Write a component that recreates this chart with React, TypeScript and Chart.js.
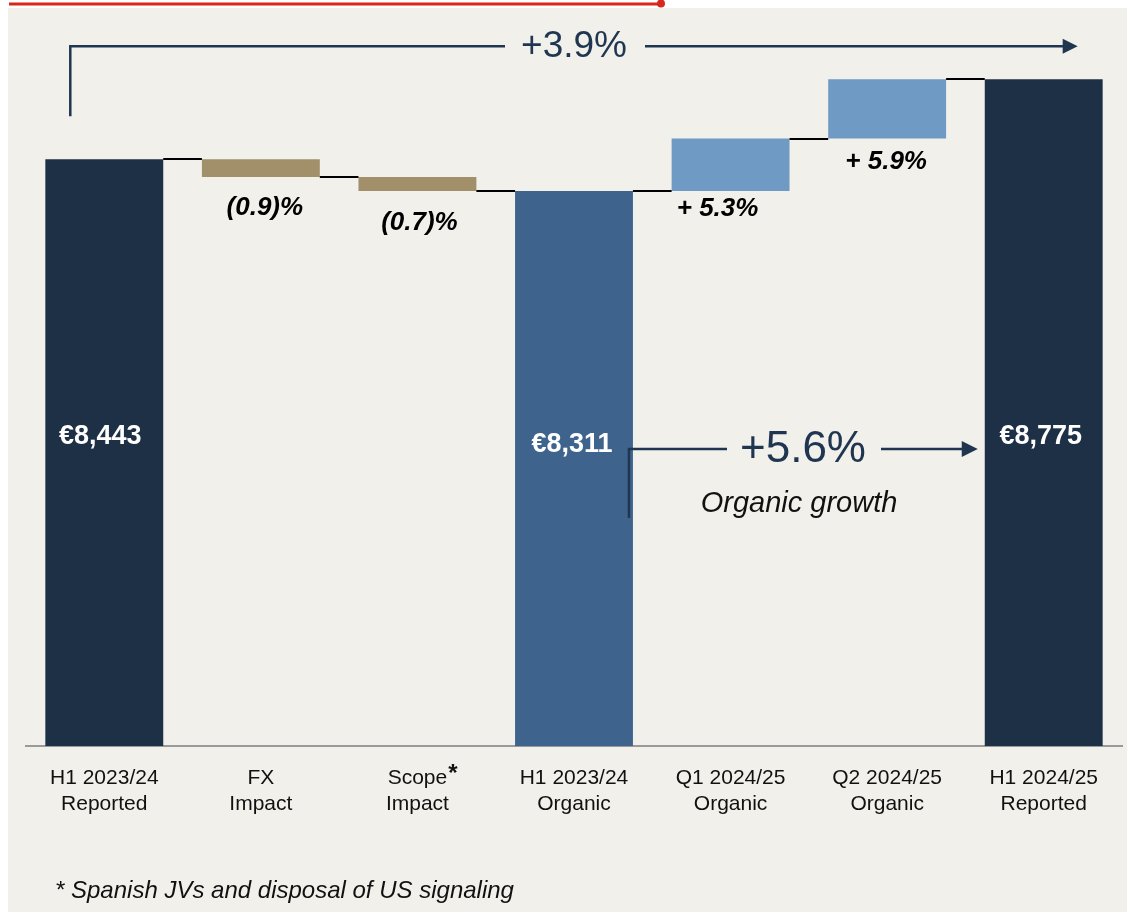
import { useEffect, useRef } from "react";
import { Chart, registerables } from "chart.js";

Chart.register(...registerables);

const FONT = '"Liberation Sans", Arial, Helvetica, sans-serif';

// ---------- data ----------
const categories: string[][] = [
  ["H1 2023/24", "Reported"],
  ["FX", "Impact"],
  ["Scope", "Impact"],
  ["H1 2023/24", "Organic"],
  ["Q1 2024/25", "Organic"],
  ["Q2 2024/25", "Organic"],
  ["H1 2024/25", "Reported"],
];
const stepValues = [8443, -74, -58, 8311, 218, 246, 8775];
const isTotal = [true, false, false, true, false, false, true];
const valueLabels = ["€8,443", "", "", "€8,311", "", "", "€8,775"];
const deltaLabels = ["", "(0.9)%", "(0.7)%", "", "+ 5.3%", "+ 5.9%", ""];
const barColors = ["#1d3046", "#a19069", "#a19069", "#3e648e", "#6f9ac4", "#6f9ac4", "#1d3046"];
const AXIS_MIN = 6012;
const AXIS_MAX = 9020;
const totalGrowth = "+3.9%";
const organicGrowth = "+5.6%";
const organicCaption = "Organic growth";
const footnote = "* Spanish JVs and disposal of US signaling";
const scopeMark = "*";

// ---------- derived waterfall ranges ----------
const ranges: number[][] = [];
const levels: number[] = [];
{
  let running = 0;
  stepValues.forEach((v, i) => {
    if (isTotal[i]) {
      ranges.push([AXIS_MIN, v]);
      running = v;
    } else {
      const next = running + v;
      ranges.push([Math.min(running, next), Math.max(running, next)]);
      running = next;
    }
    levels.push(running);
  });
}

// label layout (offsets only)
const valueLabelY = [437, 0, 0, 445, 0, 0, 437];
const valueLabelDx = [-4, 0, 0, -2, 0, 0, -3];
const deltaLabelDy = [0, 31, 32, 0, 18, 23, 0];
const deltaLabelDx = [0, 4, 2, 0, -13, -1, 0];

const NAVY = "#1f3550";

function arrowHead(ctx: CanvasRenderingContext2D, tipX: number, y: number, len: number, half: number) {
  ctx.beginPath();
  ctx.moveTo(tipX, y);
  ctx.lineTo(tipX - len, y - half);
  ctx.lineTo(tipX - len, y + half);
  ctx.closePath();
  ctx.fill();
}

const decorPlugin = {
  id: "decor",
  beforeDraw(chart: any) {
    const ctx = chart.ctx as CanvasRenderingContext2D;
    ctx.save();
    ctx.fillStyle = "#ffffff";
    ctx.fillRect(0, 0, chart.width, chart.height);
    ctx.fillStyle = "#f1f0eb";
    ctx.fillRect(8, 8, chart.width - 8, chart.height - 8);
    // red top rule
    ctx.strokeStyle = "#d8261c";
    ctx.lineWidth = 3;
    ctx.beginPath();
    ctx.moveTo(9, 4);
    ctx.lineTo(661, 4);
    ctx.stroke();
    ctx.fillStyle = "#d8261c";
    ctx.beginPath();
    ctx.arc(661, 3.5, 4, 0, Math.PI * 2);
    ctx.fill();
    ctx.restore();
  },
  afterDatasetsDraw(chart: any) {
    const ctx = chart.ctx as CanvasRenderingContext2D;
    const meta = chart.getDatasetMeta(0);
    const y = chart.scales.y;
    const x = chart.scales.x;
    const bars = meta.data;
    ctx.save();

    // connectors
    ctx.strokeStyle = "#000000";
    ctx.lineWidth = 2;
    for (let i = 0; i < bars.length - 1; i++) {
      const b0 = bars[i];
      const b1 = bars[i + 1];
      const py = Math.round(y.getPixelForValue(levels[i]));
      ctx.beginPath();
      ctx.moveTo(b0.x + b0.width / 2, py);
      ctx.lineTo(b1.x - b1.width / 2, py);
      ctx.stroke();
    }

    ctx.textAlign = "center";
    ctx.textBaseline = "middle";

    // value labels in total bars
    ctx.fillStyle = "#ffffff";
    ctx.font = `bold 27px ${FONT}`;
    valueLabels.forEach((t, i) => {
      if (!t) return;
      ctx.fillText(t, bars[i].x + valueLabelDx[i], valueLabelY[i]);
    });

    // delta labels
    ctx.fillStyle = "#000000";
    ctx.font = `italic bold 26px ${FONT}`;
    deltaLabels.forEach((t, i) => {
      if (!t) return;
      const bottom = y.getPixelForValue(ranges[i][0]);
      ctx.fillText(t, bars[i].x + deltaLabelDx[i], bottom + deltaLabelDy[i]);
    });

    // +3.9% bracket arrow
    ctx.strokeStyle = NAVY;
    ctx.fillStyle = NAVY;
    ctx.lineWidth = 2.5;
    const xL = x.getPixelForValue(0) - 34;
    const xR = x.getPixelForValue(6) + 34;
    const yTop = y.getPixelForValue(levels[6]) - 33;
    const yStart = y.getPixelForValue(levels[0]) - 43;
    const cx1 = x.getPixelForValue(3);
    ctx.beginPath();
    ctx.moveTo(xL, yStart);
    ctx.lineTo(xL, yTop);
    ctx.lineTo(cx1 - 69, yTop);
    ctx.stroke();
    ctx.beginPath();
    ctx.moveTo(cx1 + 71, yTop);
    ctx.lineTo(xR - 12, yTop);
    ctx.stroke();
    arrowHead(ctx, xR, yTop, 15, 7.5);
    ctx.font = `37px ${FONT}`;
    ctx.fillText(totalGrowth, cx1, yTop + 1);

    // +5.6% organic arrow
    const b3 = bars[3];
    const b6 = bars[6];
    const vx = b3.x + b3.width / 2 - 4;
    const ay = 449;
    const vBottom = 518;
    const cx2 = 803;
    const tip = b6.x - b6.width / 2 - 7;
    ctx.beginPath();
    ctx.moveTo(vx, vBottom);
    ctx.lineTo(vx, ay);
    ctx.lineTo(cx2 - 76, ay);
    ctx.stroke();
    ctx.beginPath();
    ctx.moveTo(cx2 + 78, ay);
    ctx.lineTo(tip - 12, ay);
    ctx.stroke();
    arrowHead(ctx, tip, ay, 16, 8);
    ctx.font = `44px ${FONT}`;
    ctx.fillText(organicGrowth, cx2, ay + 1);
    ctx.fillStyle = "#111111";
    ctx.font = `italic 29px ${FONT}`;
    ctx.fillText(organicCaption, 799, 504);

    ctx.restore();
  },
  afterDraw(chart: any) {
    const ctx = chart.ctx as CanvasRenderingContext2D;
    const x = chart.scales.x;
    ctx.save();
    // asterisk after "Scope"
    ctx.font = `21px ${FONT}`;
    const w = ctx.measureText(categories[2][0]).width;
    ctx.fillStyle = "#111111";
    ctx.font = `bold 24px ${FONT}`;
    ctx.textAlign = "left";
    ctx.textBaseline = "middle";
    ctx.fillText(scopeMark, x.getPixelForValue(2) + w / 2 + 1, 774);
    // footnote
    ctx.font = `italic 24px ${FONT}`;
    ctx.fillText(footnote, 55, 891);
    ctx.restore();
  },
};

export default function App() {
  const ref = useRef<HTMLCanvasElement | null>(null);
  useEffect(() => {
    if (!ref.current) return;
    const chart = new Chart(ref.current, {
      type: "bar",
      data: {
        labels: categories,
        datasets: [
          {
            data: ranges as any,
            backgroundColor: barColors,
            borderWidth: 0,
            barPercentage: 0.753,
            categoryPercentage: 1,
          },
        ],
      },
      options: {
        responsive: false,
        maintainAspectRatio: false,
        animation: false,
        devicePixelRatio: 1,
        layout: { padding: { left: 26, right: 5, top: 20, bottom: 66 } },
        plugins: { legend: { display: false }, tooltip: { enabled: false } },
        scales: {
          x: {
            grid: { display: false, drawTicks: false },
            border: { display: true, color: "#9a9a9a", width: 2 },
            ticks: {
              padding: 19,
              color: "#111111",
              maxRotation: 0,
              autoSkip: false,
              font: { family: FONT, size: 21, lineHeight: 1.24 },
            },
            afterFit: (s: any) => {
              s.height = 100;
            },
          },
          y: { display: false, min: AXIS_MIN, max: AXIS_MAX },
        },
      },
      plugins: [decorPlugin],
    });
    return () => chart.destroy();
  }, []);
  return (
    <div style={{ position: "absolute", left: 0, top: 0, width: 1127, height: 912 }}>
      <canvas ref={ref} width={1127} height={912} style={{ display: "block" }} />
    </div>
  );
}
